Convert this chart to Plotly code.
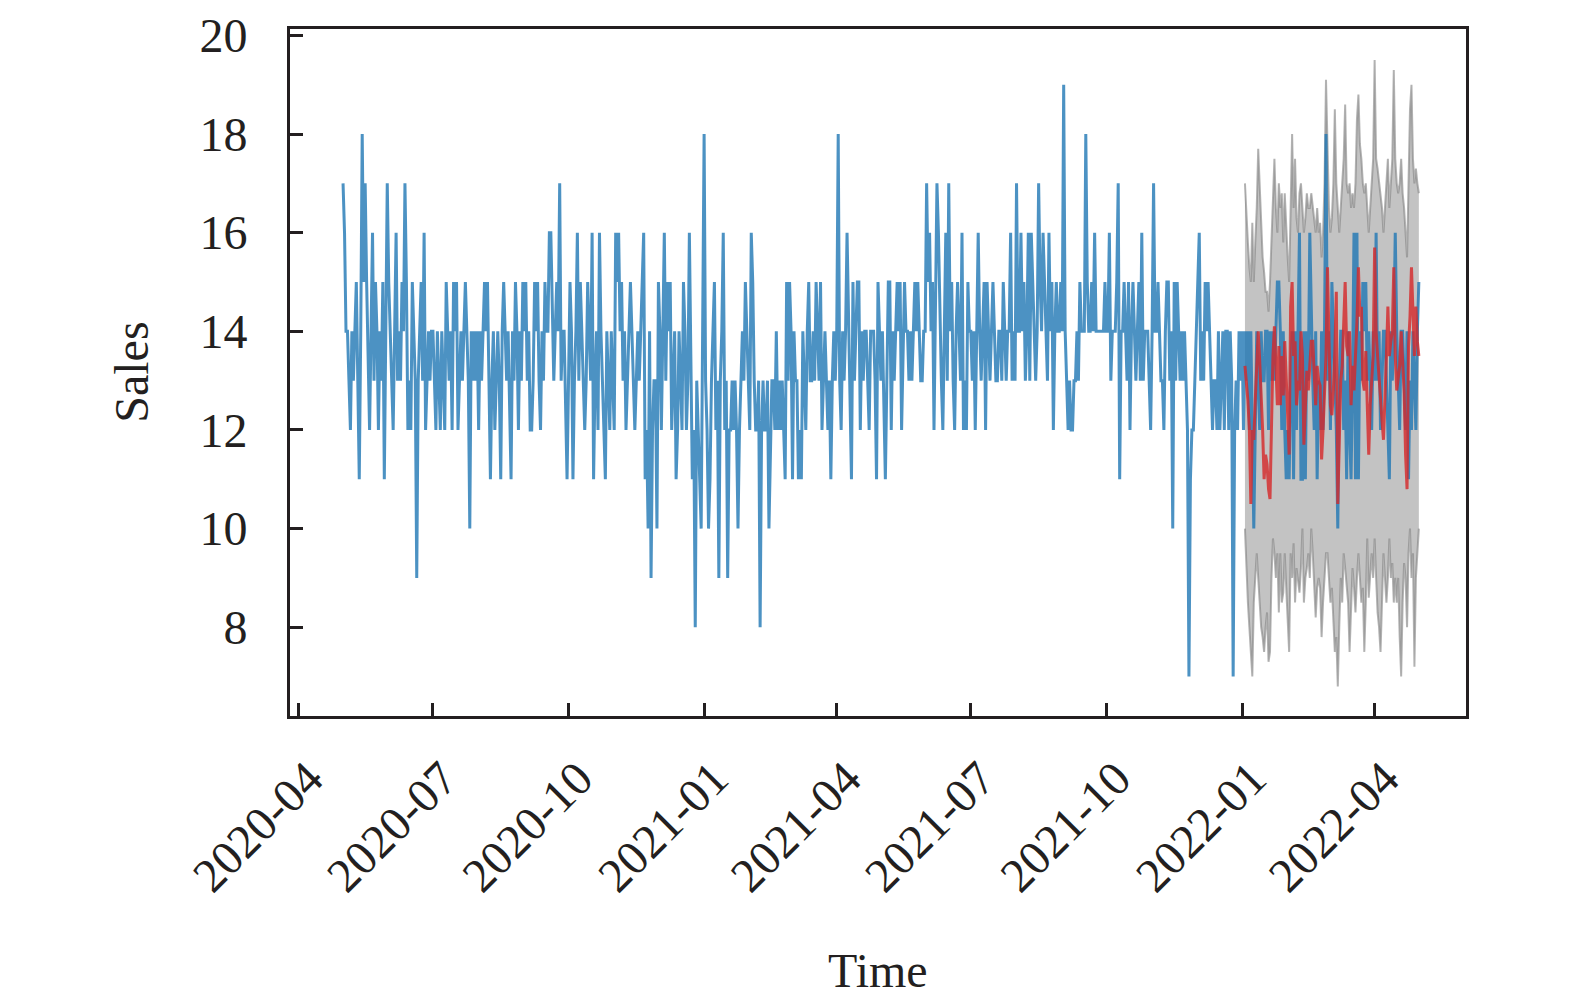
import pandas as pd
import plotly.graph_objects as go

# daily sales (train + test), 2020-05-01 .. 2022-05-01
sales = [
    17, 16, 14, 14, 13, 12, 14, 13, 14, 15,
    13, 11, 14, 18, 15, 17, 15, 13, 12, 14,
    16, 13, 15, 14, 12, 14, 13, 15, 11, 14,
    17, 15, 14, 13, 12, 14, 16, 13, 14, 13,
    15, 14, 17, 15, 12, 13, 12, 15, 14, 13,
    9, 13, 14, 15, 13, 16, 12, 13, 14, 13,
    14,
    14, 13, 12, 14, 13, 12, 14, 13, 12, 15,
    14, 13, 14, 12, 15, 14, 15, 12, 13, 14,
    13, 14, 15, 14, 13, 10, 14, 13, 14, 13,
    14, 12, 14, 13, 14, 15, 14, 15, 13, 11,
    13, 14, 12, 13, 14, 13, 11, 14, 15, 14,
    13, 14, 12, 11, 14, 13, 15, 14, 12, 14,
    13, 15, 14, 15, 13, 14, 12, 12, 13, 15,
    14, 15, 13, 12, 14, 13, 15, 14, 14, 16,
    16, 14, 13, 14, 15, 14, 17, 13, 14, 14,
    12, 11, 13, 15, 14, 11, 13, 14, 16, 13,
    15, 14, 13, 12, 13, 15, 14, 13, 16, 11,
    13, 14, 12, 16, 14, 13, 12, 11, 14, 13,
    12, 14, 13, 12, 16, 15, 16, 14, 15, 13,
    14, 12, 13, 14, 15, 14, 13, 12, 13, 14,
    13, 14, 15, 16, 11, 12, 10, 14, 9, 12,
    13, 13, 10, 15, 14, 12, 14, 16, 13, 15,
    14, 15, 12, 13, 14, 11, 12, 14, 13, 12,
    15, 14, 12, 13, 16, 13, 11, 12, 8, 13,
    12, 11, 10, 14, 18, 13, 12, 10, 11, 13,
    14, 15, 12, 13, 9, 13, 14, 16, 12, 13,
    9, 12, 12, 13, 12, 13, 12, 10, 12, 13,
    14, 13, 15, 14, 13, 12, 16, 15, 13, 12,
    12, 13, 8, 12, 13, 12, 12, 13, 10, 12,
    13, 13, 12, 14, 12, 13, 12, 13, 12, 11,
    15, 13, 15, 14, 11, 14, 13, 13, 11, 12,
    11, 14, 13, 12, 14, 15, 13, 13, 14, 13,
    15, 14, 13, 15, 12, 13, 14, 13, 12, 13,
    11, 13, 14, 13, 14, 18, 13, 12, 14, 13,
    14, 16, 14, 13, 11, 15, 13, 14, 15, 15,
    12, 14, 13, 14, 14, 13, 12, 14, 14, 14,
    13, 11, 15, 14, 13, 14, 12, 11, 13, 15,
    15, 12, 14, 13, 14, 15, 14, 15, 12, 14,
    15, 14, 14, 13, 14, 13, 14, 15, 14, 15,
    14, 13, 13, 14, 14, 17, 15, 16, 14, 15,
    12, 14, 17, 16, 14, 13, 12, 14, 16, 13,
    17, 14, 15, 13, 12, 14, 15, 14, 13, 16,
    12, 13, 12, 15, 14, 14, 13, 14, 12, 14,
    16, 14, 13, 14, 15, 12, 15, 14, 13, 14,
    15, 14, 13, 13, 14, 14, 13, 15, 14, 13,
    14, 14, 16, 13, 14, 13, 17, 14, 14, 16,
    14, 15, 13, 14, 16, 13, 16, 15, 14, 13,
    14, 17, 15, 14, 16, 15, 14, 13, 16, 14,
    15, 12, 14, 15, 14, 14, 15, 14, 19, 14,
    13, 12, 13, 12, 12, 13, 13, 14, 13, 15,
    14, 14, 14, 18, 15, 14, 14, 15, 14, 16,
    14, 14, 14, 14, 14, 14, 15, 14, 14, 16,
    13, 14, 14, 14, 15, 17, 11, 14, 14, 15,
    14, 13, 15, 12, 14, 15, 14, 13, 14, 15,
    13, 16, 13, 14, 14, 14, 13, 12, 14, 17,
    14, 14, 15, 14, 13, 13, 12, 14, 15, 15,
    13, 14, 10, 15, 13, 15, 14, 13, 14, 13,
    14, 13, 12, 7, 11, 12, 12, 13, 14, 15,
    16, 13, 14, 13, 15, 14, 15, 14, 13, 12,
    13, 13, 12, 14, 12, 13, 14, 12, 14, 14,
    12, 14, 13, 7, 12, 13, 12, 14, 13, 14,
    12, 14, 13, 14, 12, 14, 12, 10, 12, 14,
    13, 12, 14, 13, 13, 14, 14, 12, 14, 13,
    14, 13, 14, 15, 15, 14, 12, 14, 12, 11,
    12, 11, 13, 14, 11, 14, 12, 14, 16, 11,
    11, 14, 11, 14, 13, 16, 14, 13, 12, 14,
    11, 13, 12, 14, 12, 14, 18, 13, 14, 12,
    15, 14, 13, 12, 10, 13, 14, 14, 12, 13,
    11, 14, 12, 11, 13, 16, 11, 16, 11, 14,
    13, 15, 14, 15, 13, 14, 13, 12, 14, 13,
    16, 13, 14, 12, 13, 14, 14, 13, 12, 11,
    14, 13, 14, 16, 14, 13, 12, 14, 14, 13,
    12, 14, 11, 13, 12, 14, 13, 12, 14, 15,
]

# forecast for the test period, 2022-01-03 .. 2022-05-01
pred = [
    13.3, 13.0, 12.6, 12.0, 10.5, 12.0, 11.8, 12.6, 13.5, 14.0,
    13.4, 12.8, 12.0, 11.0, 11.5, 11.3, 10.8, 10.6, 12.3, 13.5,
    14.1, 13.4, 12.5, 13.7, 12.5, 13.5, 12.7, 13.8, 12.8, 12.3,
    11.5, 14.5, 15.0, 13.5, 13.8, 12.5, 13.0, 12.8, 14.0, 13.5,
    11.7, 12.5, 13.2, 12.8, 13.3, 13.8, 13.8, 13.0, 12.5, 13.3,
    13.0, 12.9, 11.4, 12.0, 12.8, 13.5, 15.3, 13.5, 12.5, 12.3,
    12.8, 13.6, 14.8, 10.5, 12.0, 13.0, 13.3, 14.0, 15.0, 13.7,
    13.5, 14.0, 12.5, 13.3, 12.8, 13.5, 14.2, 15.3, 14.3, 14.5,
    13.0, 12.8, 13.6, 12.5, 11.5, 12.5, 13.0, 13.5, 15.7, 14.0,
    13.5, 13.0, 12.5, 12.2, 11.8, 12.5, 13.5, 14.5, 13.5, 13.8,
    14.0, 15.3, 13.5, 12.8, 13.0, 13.3, 14.0, 13.3, 12.8, 11.5,
    10.8, 13.7, 14.3, 15.3, 14.5, 13.5, 14.5, 13.8, 13.5,
]

upper = [
    17.0, 16.3, 15.8, 15.3, 15.0, 16.2, 15.0, 15.8, 16.5, 17.7,
    17.0, 16.5, 15.5, 15.2, 14.8, 14.8, 14.4, 15.0, 16.0, 16.5,
    17.5, 16.5, 16.0, 17.0, 16.5, 16.8, 15.8, 16.8, 16.0, 15.5,
    15.0, 17.0, 18.0, 16.5, 17.5, 16.3, 16.0, 16.8, 17.0, 16.5,
    16.0, 16.3, 16.8, 16.5, 16.5, 16.8, 16.5, 16.3, 16.0, 16.5,
    16.0, 16.2, 15.5, 16.0, 17.0, 19.1, 17.5, 16.5, 16.0, 16.3,
    17.0, 18.5, 17.0, 16.5, 16.0, 16.5, 17.0, 17.5, 18.6, 17.0,
    16.8, 17.0, 16.5, 16.8, 16.5, 17.0, 18.3, 18.8, 17.8, 17.5,
    17.0, 16.8, 17.0, 16.5, 16.0, 16.5, 17.0, 17.5, 19.5, 17.5,
    17.3, 17.0, 16.8, 16.5, 16.0, 16.5, 17.2, 17.5, 16.5, 17.0,
    17.5, 19.3, 17.5, 17.0, 16.8, 17.0, 17.5, 16.8, 16.5, 16.0,
    15.5, 17.0, 18.5, 19.0, 17.5, 17.0, 17.3, 17.0, 16.8,
]

lower = [
    10.0, 9.0, 8.5, 8.0, 7.5, 7.0, 8.5, 9.0, 9.5, 9.0,
    8.5, 8.0, 7.8, 7.5, 8.0, 8.3, 7.3, 7.5, 9.0, 9.8,
    9.5, 9.0, 9.5, 8.3, 9.5, 8.5, 8.7, 9.5, 8.8, 8.0,
    7.5, 9.5, 9.0, 9.7, 8.5, 9.2, 9.0, 8.7, 9.2, 10.0,
    8.5, 9.0, 9.2, 9.5, 9.0, 10.0, 9.5, 8.8, 8.2, 8.8,
    9.0, 8.8, 7.8, 8.5, 9.0, 9.5, 9.5, 9.0, 8.5, 8.8,
    8.0, 7.5, 7.8, 6.8, 8.0, 9.0, 8.5, 9.5, 9.2, 8.8,
    8.5, 7.5, 8.5, 9.2, 8.8, 8.3, 9.0, 9.5, 9.0, 8.5,
    8.8, 7.5, 8.5, 9.8, 8.6, 9.0, 9.5, 9.0, 9.8, 9.0,
    8.3, 8.0, 7.5, 8.5, 9.5, 9.0, 8.5, 9.0, 9.8, 9.0,
    9.3, 8.5, 9.0, 8.5, 9.0, 7.8, 7.0, 8.5, 9.3, 9.0,
    8.0, 9.5, 10.0, 9.0, 9.5, 7.2, 9.0, 9.5, 10.0,
]

dates = pd.date_range("2020-05-01", periods=len(sales), freq="D")
test_dates = pd.date_range("2022-01-03", periods=len(pred), freq="D")

BLUE = "rgba(31,119,180,0.8)"
RED = "rgba(214,39,40,0.8)"
INK = "#231f20"
FONT = "Liberation Serif, Times New Roman, serif"

fig = go.Figure()

# confidence band
fig.add_trace(go.Scatter(x=test_dates, y=lower, mode="lines",
                         line=dict(color="rgba(128,128,128,0.6)", width=2),
                         showlegend=False, hoverinfo="skip"))
fig.add_trace(go.Scatter(x=test_dates, y=upper, mode="lines", fill="tonexty",
                         fillcolor="rgba(128,128,128,0.47)",
                         line=dict(color="rgba(128,128,128,0.6)", width=2),
                         showlegend=False, hoverinfo="skip"))

fig.add_trace(go.Scatter(x=dates, y=sales, mode="lines",
                         line=dict(color=BLUE, width=3), showlegend=False))
fig.add_trace(go.Scatter(x=test_dates, y=pred, mode="lines",
                         line=dict(color=RED, width=3), showlegend=False))

axis_common = dict(
    showline=True, mirror=True, linecolor=INK, linewidth=3,
    ticks="inside", ticklen=13, tickwidth=3, tickcolor=INK,
    showgrid=False, zeroline=False, automargin=False,
    ticklabeloverflow="allow",
    tickfont=dict(family=FONT, size=48, color=INK),
)

fig.update_xaxes(
    type="date", range=["2020-03-26", "2022-06-02"],
    tick0="2020-04-01", dtick="M3", tickformat="%Y-%m", tickangle=-45,
    ticklabelstandoff=12, ticklabelshift=10,
    **axis_common,
)
fig.update_yaxes(
    range=[6.2, 20.13], tickvals=[8, 10, 12, 14, 16, 18, 20],
    ticklabelstandoff=30,
    **axis_common,
)

fig.add_annotation(text="Sales", xref="paper", yref="paper", x=-0.135, y=0.5,
                   textangle=-90, showarrow=False, xanchor="center", yanchor="middle",
                   font=dict(family=FONT, size=48, color=INK))
fig.add_annotation(text="Time", xref="paper", yref="paper", x=0.5, y=-0.37,
                   showarrow=False, xanchor="center", yanchor="middle",
                   font=dict(family=FONT, size=48, color=INK))

fig.update_layout(
    width=1575, height=1008,
    margin=dict(l=282, r=117, t=21, b=300),
    plot_bgcolor="white", paper_bgcolor="white",
)

fig.write_html("out.html")
